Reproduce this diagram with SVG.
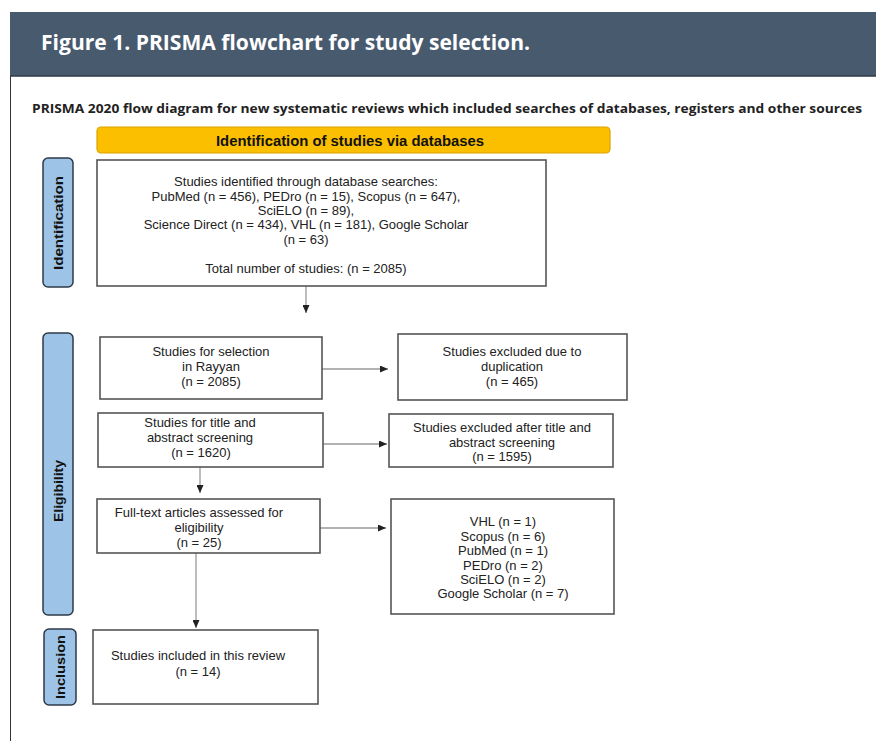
<svg xmlns="http://www.w3.org/2000/svg" width="876" height="741" viewBox="0 0 876 741">
<style>
.box{fill:#fff;stroke:#555;stroke-width:1.6}
.side{fill:#9dc3e6;stroke:#2e3a48;stroke-width:1.5}
.t{font-family:"Liberation Sans",Arial,sans-serif;font-size:13px;fill:#222;text-anchor:middle}
.sl{font-family:"Liberation Sans",Arial,sans-serif;font-size:12px;font-weight:bold;fill:#111;text-anchor:middle}
.conn{stroke:#999;stroke-width:1.3;fill:none;marker-end:url(#ah)}
</style>
<defs>
<marker id="ah" markerUnits="userSpaceOnUse" markerWidth="8" markerHeight="7" refX="8" refY="3.5" orient="auto">
<path d="M0,0 L8,3.5 L0,7 z" fill="#222"/>
</marker>
</defs>
<rect x="0" y="0" width="876" height="741" fill="#fff"/>
<g id="header">
<rect x="10" y="12" width="866" height="64" fill="#485a6e"/>
<line x1="10" y1="76" x2="876" y2="76" stroke="#2d3a48" stroke-width="1.5"/>
<line x1="10.5" y1="76" x2="10.5" y2="741" stroke="#333" stroke-width="1"/>
<text x="41" y="50" font-family="'Open Sans',sans-serif" font-size="22" font-weight="bold" fill="#fff" textLength="489" lengthAdjust="spacingAndGlyphs">Figure 1. PRISMA flowchart for study selection.</text>
</g>
<text id="subtitle" x="32" y="113" font-family="'Open Sans',sans-serif" font-size="12.5" font-weight="bold" fill="#222" textLength="830" lengthAdjust="spacingAndGlyphs">PRISMA 2020 flow diagram for new systematic reviews which included searches of databases, registers and other sources</text>
<g id="banner">
<rect x="97" y="127" width="513" height="26" rx="4" fill="#fbbf00" stroke="#d9a400" stroke-width="1.2"/>
<text x="350" y="145.5" font-family="'Liberation Sans',Arial,sans-serif" font-size="14" font-weight="bold" fill="#111" text-anchor="middle" textLength="268" lengthAdjust="spacingAndGlyphs">Identification of studies via databases</text>
</g>
<g id="label-identification">
<rect class="side" x="43" y="158" width="30" height="129" rx="5"/>
<text class="sl" transform="translate(63,223) rotate(-90)" textLength="94" lengthAdjust="spacingAndGlyphs">Identification</text>
</g>
<g id="label-eligibility">
<rect class="side" x="43" y="333" width="30" height="282" rx="5"/>
<text class="sl" transform="translate(63,491) rotate(-90)" textLength="62" lengthAdjust="spacingAndGlyphs">Eligibility</text>
</g>
<g id="label-inclusion">
<rect class="side" x="44" y="629" width="32" height="76" rx="5"/>
<text class="sl" transform="translate(64.5,667) rotate(-90)" textLength="64" lengthAdjust="spacingAndGlyphs">Inclusion</text>
</g>
<g id="connectors">
<line class="conn" x1="306" y1="286" x2="306" y2="313"/>
<line class="conn" x1="322" y1="369" x2="388" y2="369"/>
<line class="conn" x1="323" y1="444" x2="387" y2="444"/>
<line class="conn" x1="200" y1="467" x2="200" y2="493"/>
<line class="conn" x1="320" y1="528" x2="386" y2="528"/>
<line class="conn" x1="196" y1="553" x2="196" y2="628"/>
</g>
<g id="n-identified">
<rect class="box" x="97" y="160" width="449" height="126"/>
<text class="t" x="306" y="186">Studies identified through database searches:</text>
<text class="t" x="306" y="201">PubMed (n = 456), PEDro (n = 15), Scopus (n = 647),</text>
<text class="t" x="306" y="215">SciELO (n = 89),</text>
<text class="t" x="306" y="229">Science Direct (n = 434), VHL (n = 181), Google Scholar</text>
<text class="t" x="306" y="244">(n = 63)</text>
<text class="t" x="306" y="273">Total number of studies: (n = 2085)</text>
</g>
<g id="n-rayyan">
<rect class="box" x="100" y="337" width="222" height="62"/>
<text class="t" x="211" y="356">Studies for selection</text>
<text class="t" x="211" y="371">in Rayyan</text>
<text class="t" x="211" y="386">(n = 2085)</text>
</g>
<g id="n-duplicates">
<rect class="box" x="398" y="334" width="229" height="66"/>
<text class="t" x="512" y="356">Studies excluded due to</text>
<text class="t" x="512" y="371">duplication</text>
<text class="t" x="512" y="386">(n = 465)</text>
</g>
<g id="n-screening">
<rect class="box" x="98" y="413" width="225" height="54"/>
<text class="t" x="200" y="427">Studies for title and</text>
<text class="t" x="200" y="442">abstract screening</text>
<text class="t" x="201" y="457">(n = 1620)</text>
</g>
<g id="n-excluded-screening">
<rect class="box" x="389" y="414" width="224" height="53"/>
<text class="t" x="502" y="432">Studies excluded after title and</text>
<text class="t" x="502" y="447">abstract screening</text>
<text class="t" x="502" y="461">(n = 1595)</text>
</g>
<g id="n-fulltext">
<rect class="box" x="97" y="499" width="223" height="54"/>
<text class="t" x="199" y="517">Full-text articles assessed for</text>
<text class="t" x="199" y="532">eligibility</text>
<text class="t" x="199" y="547">(n = 25)</text>
</g>
<g id="n-excluded-fulltext">
<rect class="box" x="391" y="499" width="223" height="115"/>
<text class="t" x="503" y="526">VHL (n = 1)</text>
<text class="t" x="503" y="541">Scopus (n = 6)</text>
<text class="t" x="503" y="555">PubMed (n = 1)</text>
<text class="t" x="503" y="570">PEDro (n = 2)</text>
<text class="t" x="503" y="584">SciELO (n = 2)</text>
<text class="t" x="503" y="598">Google Scholar (n = 7)</text>
</g>
<g id="n-included">
<rect class="box" x="93" y="630" width="225" height="74"/>
<text class="t" x="198" y="660">Studies included in this review</text>
<text class="t" x="198" y="676">(n = 14)</text>
</g>
</svg>
